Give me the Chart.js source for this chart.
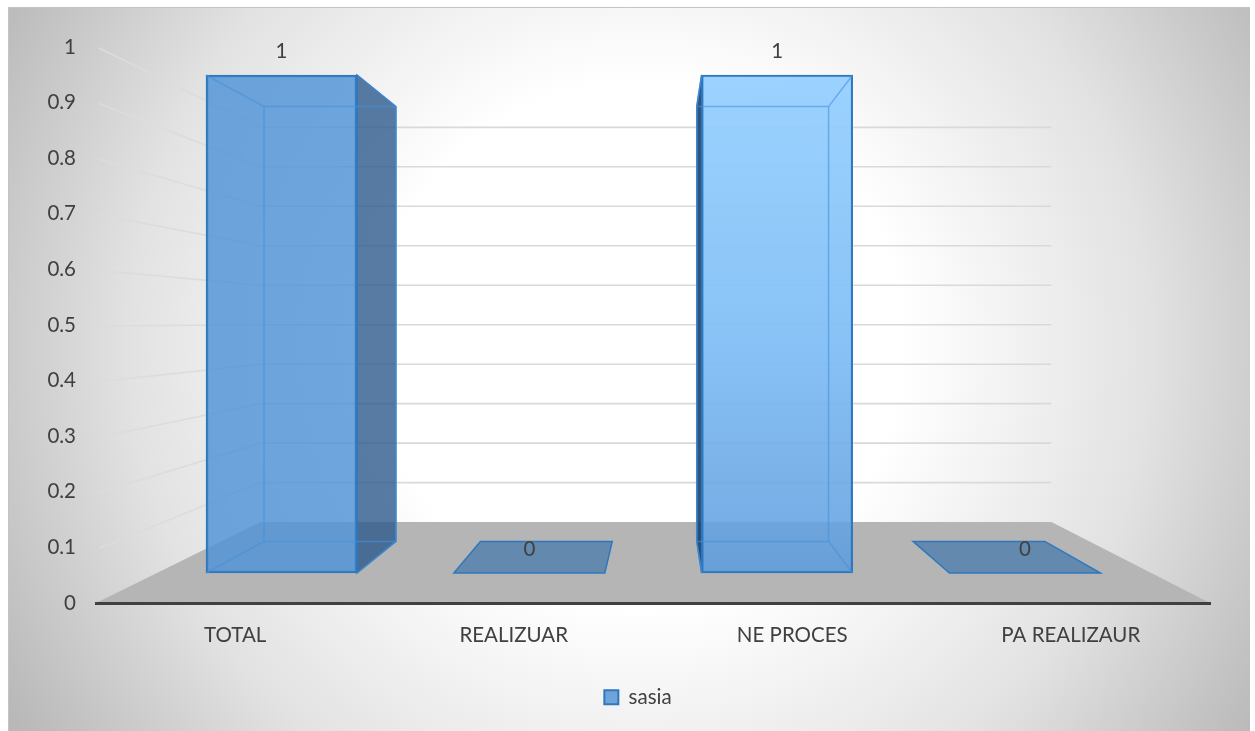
<!DOCTYPE html>
<html>
<head>
<meta charset="utf-8">
<title>sasia</title>
<script src="https://cdn.jsdelivr.net/npm/chart.js@4/dist/chart.umd.min.js"></script>
<style>
  html, body { margin: 0; padding: 0; background: #fff; overflow: hidden; }
  canvas { display: block; }
</style>
</head>
<body>
<canvas id="myChart" width="1255" height="731"></canvas>
<script>
// Data
const categories = ["TOTAL", "REALIZUAR", "NE PROCES", "PA REALIZAUR"];
const seriesName = "sasia";
const seriesValues = [1, 0, 1, 0];

// Look
const textColor = "#404040";
const fontFamily = "Lato, 'Open Sans', sans-serif";
const fontSize = 20.5;
const barBlue = "rgba(78, 146, 214, 0.82)";
const barEdge = "#2f78bd";
const innerEdge = "rgba(70, 145, 220, 0.6)";
const darkFace = "rgba(45, 90, 140, 0.8)";

// Fake 3D: everything shrinks towards one point as it goes back
const vanishX = 663;
const vanishY = 324;
const barBackDepth = 0.873;
const wallDepth = 0.71;

const project = (x, y, k) => ({ x: vanishX + k * (x - vanishX), y: vanishY + k * (y - vanishY) });

const polygon = (ctx, pts, fill, stroke, lineWidth) => {
  ctx.beginPath();
  pts.forEach((p, i) => (i ? ctx.lineTo(p.x, p.y) : ctx.moveTo(p.x, p.y)));
  ctx.closePath();
  if (fill) {
    ctx.fillStyle = fill;
    ctx.fill();
  }
  if (stroke) {
    ctx.strokeStyle = stroke;
    ctx.lineWidth = lineWidth || 1;
    ctx.stroke();
  }
};

const line = (ctx, a, b, color, width) => {
  ctx.beginPath();
  ctx.moveTo(a.x, a.y);
  ctx.lineTo(b.x, b.y);
  ctx.strokeStyle = color;
  ctx.lineWidth = width;
  ctx.stroke();
};

// Background, floor, the two walls and the patch behind the legend
const roomPlugin = {
  id: "room",
  afterLayout(chart) {
    // the legend sits a bit right of the plot centre
    chart.legend.left += 13;
    chart.legend.right += 13;
    chart.legend.adjustHitBoxes();
  },
  beforeDraw(chart) {
    const ctx = chart.ctx;
    const area = chart.chartArea;
    ctx.save();

    const bg = ctx.createRadialGradient(640, 345, 0, 640, 345, 730);
    bg.addColorStop(0, "#ffffff");
    bg.addColorStop(0.36, "#ffffff");
    bg.addColorStop(0.7, "#e2e2e2");
    bg.addColorStop(1, "#b8b8b8");
    ctx.fillStyle = bg;
    ctx.fillRect(8, 7, 1242, 724);
    ctx.strokeStyle = "#c4c4c4";
    ctx.lineWidth = 1;
    ctx.beginPath();
    ctx.moveTo(8.5, 731);
    ctx.lineTo(8.5, 7.5);
    ctx.lineTo(1250, 7.5);
    ctx.stroke();

    const box = chart.legend.legendHitBoxes[0];
    if (box) {
      ctx.fillStyle = "rgba(255, 255, 255, 0.35)";
      ctx.fillRect(box.left - 14, box.top - 12, box.width + 28, 43);
    }

    polygon(ctx, [
      { x: area.left, y: area.bottom },
      { x: area.right, y: area.bottom },
      project(area.right, area.bottom, wallDepth),
      project(area.left, area.bottom, wallDepth)
    ], "#b5b5b5");

    const yScale = chart.scales.y;
    yScale.ticks.forEach((tick) => {
      if (tick.value === 0) return;
      const y = yScale.getPixelForValue(tick.value);
      const a = { x: area.left + 3, y: y + 1 };
      const b = project(area.left, y, wallDepth);
      const c = project(area.right, y, wallDepth);
      line(ctx, a, b, "#dcdcdc", 1.6);
      line(ctx, b, c, "#d9d9d9", 1.6);
    });
    ctx.restore();
  }
};

// Back, side and inner edges of the boxes, from the native front bars
const boxPlugin = {
  id: "box",
  beforeDatasetsDraw(chart) {
    const ctx = chart.ctx;
    ctx.save();
    chart.getDatasetMeta(0).data.forEach((bar) => {
      const left = bar.x - bar.width / 2;
      const right = bar.x + bar.width / 2;
      const top = bar.y;
      const base = bar.base;
      const tl = { x: left, y: top };
      const tr = { x: right, y: top };
      const bl = { x: left, y: base };
      const br = { x: right, y: base };
      const btl = project(left, top, barBackDepth);
      const btr = project(right, top, barBackDepth);
      const bbl = project(left, base, barBackDepth);
      const bbr = project(right, base, barBackDepth);

      if (base - top < 1) {
        polygon(ctx, [bl, br, bbr, bbl], "rgba(48, 110, 170, 0.62)");
        polygon(ctx, [bl, br, bbr, bbl], null, barEdge, 1.5);
        return;
      }
      if (btr.x > right) {
        polygon(ctx, [tr, btr, bbr, br], darkFace, barEdge, 1.5);
      }
      if (btl.x < left) {
        polygon(ctx, [tl, btl, bbl, bl], "rgba(25, 65, 110, 0.9)", barEdge, 1.5);
      }
    });
    ctx.restore();
  },
  afterDatasetsDraw(chart) {
    const ctx = chart.ctx;
    ctx.save();
    chart.getDatasetMeta(0).data.forEach((bar, i) => {
      const left = bar.x - bar.width / 2;
      const right = bar.x + bar.width / 2;
      const top = bar.y;
      const base = bar.base;

      if (base - top >= 1) {
        const btl = project(left, top, barBackDepth);
        const btr = project(right, top, barBackDepth);
        const bbl = project(left, base, barBackDepth);
        const bbr = project(right, base, barBackDepth);
        line(ctx, btl, btr, innerEdge, 1.5);
        line(ctx, bbl, bbr, innerEdge, 1.5);
        line(ctx, { x: left, y: top }, btl, innerEdge, 1.5);
        line(ctx, { x: right, y: top }, btr, innerEdge, 1.5);
        line(ctx, { x: left, y: base }, bbl, innerEdge, 1.5);
        line(ctx, { x: right, y: base }, bbr, innerEdge, 1.5);
        line(ctx, btl, bbl, innerEdge, 1.5);
        line(ctx, btr, bbr, innerEdge, 1.5);
      }

      // value label
      ctx.fillStyle = textColor;
      ctx.font = fontSize + "px " + fontFamily;
      ctx.textAlign = "center";
      ctx.textBaseline = "middle";
      ctx.fillText(String(seriesValues[i]), bar.x, bar.y - 24);
    });
    ctx.restore();
  }
};

const ctx = document.getElementById("myChart").getContext("2d");
const myChart = new Chart(ctx, {
  type: "bar",
  plugins: [roomPlugin, boxPlugin],
  data: {
    labels: categories,
    datasets: [{
      label: seriesName,
      data: seriesValues.map((v, i) => ({ x: i, y: v })),
      xAxisID: "frontX",
      yAxisID: "frontY",
      barThickness: 151,
      borderColor: barEdge,
      borderWidth: 2,
      borderSkipped: false,
      backgroundColor: (c) => {
        if (c.dataIndex !== 2 || !c.chart.chartArea) return barBlue;
        const g = c.chart.ctx.createLinearGradient(0, 75, 0, 573);
        g.addColorStop(0, "rgba(150, 208, 255, 0.95)");
        g.addColorStop(0.55, "rgba(130, 190, 245, 0.95)");
        g.addColorStop(1, "rgba(90, 155, 220, 0.85)");
        return g;
      }
    }]
  },
  options: {
    responsive: false,
    animation: false,
    layout: { padding: { left: 40, right: 45, top: 47, bottom: 13.5 } },
    plugins: {
      tooltip: { enabled: false },
      legend: {
        position: "bottom",
        labels: {
          boxWidth: 14,
          boxHeight: 14,
          padding: 24,
          color: textColor,
          font: { family: fontFamily, size: fontSize }
        }
      }
    },
    scales: {
      x: {
        type: "category",
        grid: { display: false, drawTicks: false },
        border: { display: true, color: textColor, width: 3 },
        ticks: { color: textColor, padding: 20, maxRotation: 0, font: { family: fontFamily, size: fontSize } },
        afterFit: (s) => { s.height = 60; }
      },
      y: {
        type: "linear",
        min: 0,
        max: 1,
        grid: { display: false, drawTicks: false },
        border: { display: false },
        ticks: {
          stepSize: 0.1,
          color: textColor,
          padding: 20,
          font: { family: fontFamily, size: fontSize },
          callback: (v) => String(Number(v.toFixed(1)))
        },
        afterFit: (s) => { s.width = 56; }
      },
      // Hidden scales for the front plane of the boxes, which sits nearer than the axis plane
      frontX: { type: "linear", axis: "x", display: false, offset: false, min: -0.7486, max: 3.7466 },
      frontY: { type: "linear", axis: "y", display: false, min: -0.0602, max: 1.0562 }
    }
  }
});
</script>
</body>
</html>
